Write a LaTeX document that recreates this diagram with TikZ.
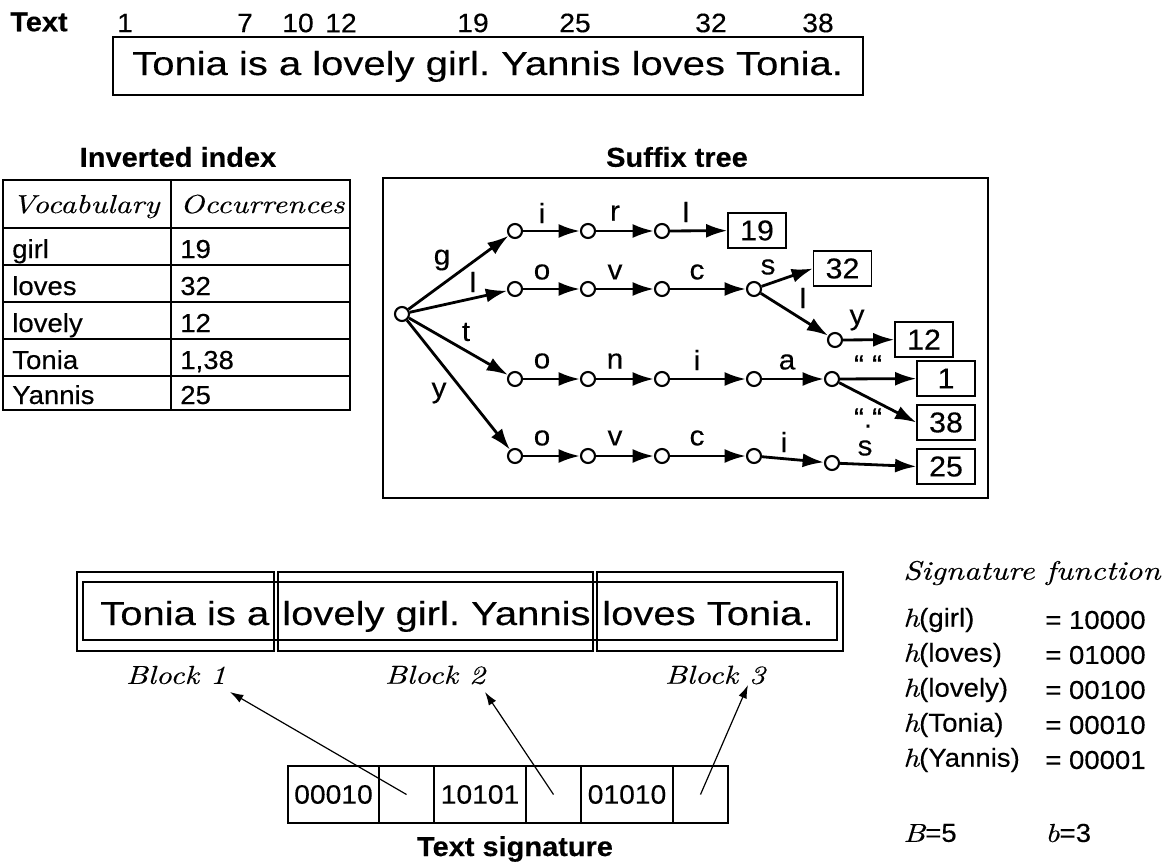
\documentclass[tikz,border=0pt]{standalone}
\usepackage{fontspec}
\usetikzlibrary{arrows.meta}
\setmainfont{Liberation Sans}
\frenchspacing
\newfontfamily\sw{Liberation Sans}[FakeStretch=1.2, FakeBold=0.3]
\newfontfamily\sn{Liberation Sans}[FakeStretch=1.06, FakeBold=0.3]
\newfontfamily\serit{lmroman10-italic}[Extension=.otf, FakeStretch=1.2, FakeBold=0.3]
\newcommand{\hh}{{\serit h}}
\tikzset{
  sent/.style={font=\sw\fontsize{25}{30}\selectfont, inner sep=0pt},
  lab/.style={font=\sn\fontsize{21}{25}\selectfont, inner sep=0pt},
  txt/.style={font=\sn\fontsize{19.5}{23}\selectfont, inner sep=0pt},
  num/.style={font=\sn\fontsize{20}{24}\selectfont, inner sep=0pt},
  ttl/.style={font=\sn\bfseries\fontsize{20.5}{24}\selectfont, inner sep=0pt},
  itl/.style={font=\serit\fontsize{19.5}{23}\selectfont, inner sep=0pt},
  vx/.style={circle, draw, fill=white, line width=1.6pt, minimum size=10.5pt, inner sep=0pt},
  leaf/.style={draw, line width=0.9pt, minimum width=43.5pt, minimum height=26.25pt, inner sep=0pt, font=\sn\fontsize{21.5}{25}\selectfont},
  edge/.style={line width=2.1pt, -{Latex[length=16pt,width=10.5pt]}},
  ptr/.style={line width=0.9pt, -{Latex[length=10pt,width=6.5pt]}},
  frame/.style={draw, line width=1.1pt},
  thin/.style={draw, line width=0.8pt},
  cell/.style={draw, line width=0.9pt, minimum height=42.75pt, inner sep=0pt, font=\sn\fontsize{20}{24}\selectfont}
}
\begin{document}
\begin{tikzpicture}[x=0.75pt,y=-0.75pt]
\useasboundingbox (0,0) rectangle (1173,867);

% ---------- top text ----------
\node[ttl, anchor=west] (texttitle) at (10,22) {Text};
\node[num] (n1) at (125,23) {1};
\node[num] (n7) at (245,23) {7};
\node[num] (n10) at (298,23) {10};
\node[num] (n12) at (341,23) {12};
\node[num] (n19) at (473,23) {19};
\node[num] (n25) at (575,23) {25};
\node[num] (n32) at (711,23) {32};
\node[num] (n38) at (818,23) {38};
\node[frame, minimum width=562.5pt, minimum height=43.5pt] (tbox) at (488,66) {};
\node[sent, anchor=base west] (sentence) at (132,75) {Tonia is a lovely girl. Yannis loves Tonia.};

% ---------- inverted index ----------
\node[ttl] (invtitle) at (178,157) {Inverted index};
\draw[line width=1.1pt] (3,180) rectangle (350,410);
\draw[line width=1pt] (171,180) -- (171,410);
\foreach \yy in {228,265,302,339,376} \draw[line width=1pt] (3,\yy) -- (350,\yy);
\node[itl, anchor=base west] (hv) at (12,213) {Vocabulary};
\node[itl, anchor=base west] (ho) at (180,213) {Occurrences};
\node[txt, anchor=base west] (w1) at (12,258) {girl};
\node[txt, anchor=base west] (o1) at (180,258) {19};
\node[txt, anchor=base west] (w2) at (12,295) {loves};
\node[txt, anchor=base west] (o2) at (180,295) {32};
\node[txt, anchor=base west] (w3) at (12,332) {lovely};
\node[txt, anchor=base west] (o3) at (180,332) {12};
\node[txt, anchor=base west] (w4) at (12,369) {Tonia};
\node[txt, anchor=base west] (o4) at (180,369) {1,38};
\node[txt, anchor=base west] (w5) at (12,404) {Yannis};
\node[txt, anchor=base west] (o5) at (180,404) {25};

% ---------- suffix tree ----------
\node[ttl] (suftitle) at (677,157) {Suffix tree};
\draw[line width=1.1pt] (383,178) rectangle (988,498);

\node[vx] (r) at (402,314) {};
\node[vx] (g1) at (515,231) {};
\node[vx] (g2) at (588,231) {};
\node[vx] (g3) at (662,231) {};
\node[leaf] (L19) at (757,230.5) {19};
\node[vx] (l1) at (515,289) {};
\node[vx] (l2) at (588,289) {};
\node[vx] (l3) at (662,289) {};
\node[vx] (l4) at (754,289) {};
\node[leaf] (L32) at (842.5,268.5) {32};
\node[vx] (l5) at (835,340) {};
\node[leaf] (L12) at (924,339.5) {12};
\node[vx] (t1) at (515,379) {};
\node[vx] (t2) at (588,379) {};
\node[vx] (t3) at (662,379) {};
\node[vx] (t4) at (754,379) {};
\node[vx] (t5) at (832,379) {};
\node[leaf] (L1) at (946,378.5) {1};
\node[leaf] (L38) at (946,422.5) {38};
\node[vx] (y1) at (515,456) {};
\node[vx] (y2) at (588,456) {};
\node[vx] (y3) at (662,456) {};
\node[vx] (y4) at (754,456) {};
\node[vx] (y5) at (832,463) {};
\node[leaf] (L25) at (946,466.5) {25};

\draw[edge] (r) -- (g1);
\draw[edge] (r) -- (l1);
\draw[edge] (r) -- (t1);
\draw[edge] (r) -- (y1);
\draw[edge] (g1) -- (g2);
\draw[edge] (g2) -- (g3);
\draw[edge] (g3) -- (L19);
\draw[edge] (l1) -- (l2);
\draw[edge] (l2) -- (l3);
\draw[edge] (l3) -- (l4);
\draw[edge] (l4) -- (L32.west);
\draw[edge] (l4) -- (l5);
\draw[edge] (l5) -- (L12);
\draw[edge] (t1) -- (t2);
\draw[edge] (t2) -- (t3);
\draw[edge] (t3) -- (t4);
\draw[edge] (t4) -- (t5);
\draw[edge] (t5) -- (L1);
\draw[edge] (t5) -- (L38.west);
\draw[edge] (y1) -- (y2);
\draw[edge] (y2) -- (y3);
\draw[edge] (y3) -- (y4);
\draw[edge] (y4) -- (y5);
\draw[edge] (y5) -- (L25.west);

\node[lab] (eg) at (442,260) {g};
\node[lab] (el) at (473,282) {l};
\node[lab] (et) at (466,332) {t};
\node[lab] (ey) at (439,393) {y};
\node[lab] (e1) at (542,213) {i};
\node[lab] (e2) at (615,213) {r};
\node[lab] (e3) at (686,212) {l};
\node[lab] (e4) at (542,272) {o};
\node[lab] (e5) at (615,272) {v};
\node[lab] (e6) at (697,272) {c};
\node[lab] (e7) at (768,267) {s};
\node[lab] (e8) at (803,298) {l};
\node[lab] (e9) at (857,320) {y};
\node[lab] (e10) at (542,361) {o};
\node[lab] (e11) at (615,361) {n};
\node[lab] (e12) at (697,360) {i};
\node[lab] (e13) at (787,362) {a};
\node[lab] (e14) at (868,365) {“ “};
\node[lab] (e15) at (868,418) {“.“};
\node[lab] (e16) at (542,438) {o};
\node[lab] (e17) at (615,438) {v};
\node[lab] (e18) at (697,438) {c};
\node[lab] (e19) at (784,442) {i};
\node[lab] (e20) at (865,448) {s};

% ---------- blocks ----------
\node[thin, minimum width=147.75pt, minimum height=59.25pt] (blk1) at (175.5,611.5) {};
\node[thin, minimum width=236.25pt, minimum height=59.25pt] (blk2) at (435.5,611.5) {};
\node[thin, minimum width=184.5pt, minimum height=59.25pt] (blk3) at (720,611.5) {};
\node[thin, minimum width=565.5pt, minimum height=43.5pt] (inner) at (460,611) {};
\node[sent, anchor=base west] (bt1) at (100,625) {Tonia is a};
\node[sent, anchor=base west] (bt2) at (282,625) {lovely girl. Yannis};
\node[sent, anchor=base west] (bt3) at (602,625) {loves Tonia.};
\node[itl] (bl1) at (176,675) {Block 1};
\node[itl] (bl2) at (435,675) {Block 2};
\node[itl] (bl3) at (715,675) {Block 3};

% ---------- text signature ----------
\node[cell, minimum width=68.25pt] (s1) at (333.5,794.5) {00010};
\node[cell, minimum width=41.25pt] (s2) at (406.5,794.5) {};
\node[cell, minimum width=69pt] (s3) at (480,794.5) {10101};
\node[cell, minimum width=41.25pt] (s4) at (553.5,794.5) {};
\node[cell, minimum width=69pt] (s5) at (627,794.5) {01010};
\node[cell, minimum width=41.25pt] (s6) at (700.5,794.5) {};
\node[ttl] (sigtitle) at (515,849) {Text signature};
\coordinate (p1) at (230,692);
\coordinate (p2) at (485,692);
\coordinate (p3) at (748,685);
\draw[ptr] (s2.center) -- (p1);
\draw[ptr] (s4.center) -- (p2);
\draw[ptr] (s6.center) -- (p3);

% ---------- signature function ----------
\node[itl, anchor=west, font=\serit\fontsize{20}{24}\selectfont] (sf) at (903,573) {Signature function};
\node[txt, anchor=west] (h1) at (903,620) {\hh(girl)};
\node[txt, anchor=west] (v1) at (1045,620) {= 10000};
\node[txt, anchor=west] (h2) at (903,655) {\hh(loves)};
\node[txt, anchor=west] (v2) at (1045,655) {= 01000};
\node[txt, anchor=west] (h3) at (903,690) {\hh(lovely)};
\node[txt, anchor=west] (v3) at (1045,690) {= 00100};
\node[txt, anchor=west] (h4) at (903,725) {\hh(Tonia)};
\node[txt, anchor=west] (v4) at (1045,725) {= 00010};
\node[txt, anchor=west] (h5) at (903,760) {\hh(Yannis)};
\node[txt, anchor=west] (v5) at (1045,760) {= 00001};
\node[txt, anchor=west] (bB) at (903,833) {{\serit B}=5};
\node[txt, anchor=west] (bb) at (1045,833) {{\serit b}=3};
\end{tikzpicture}
\end{document}
